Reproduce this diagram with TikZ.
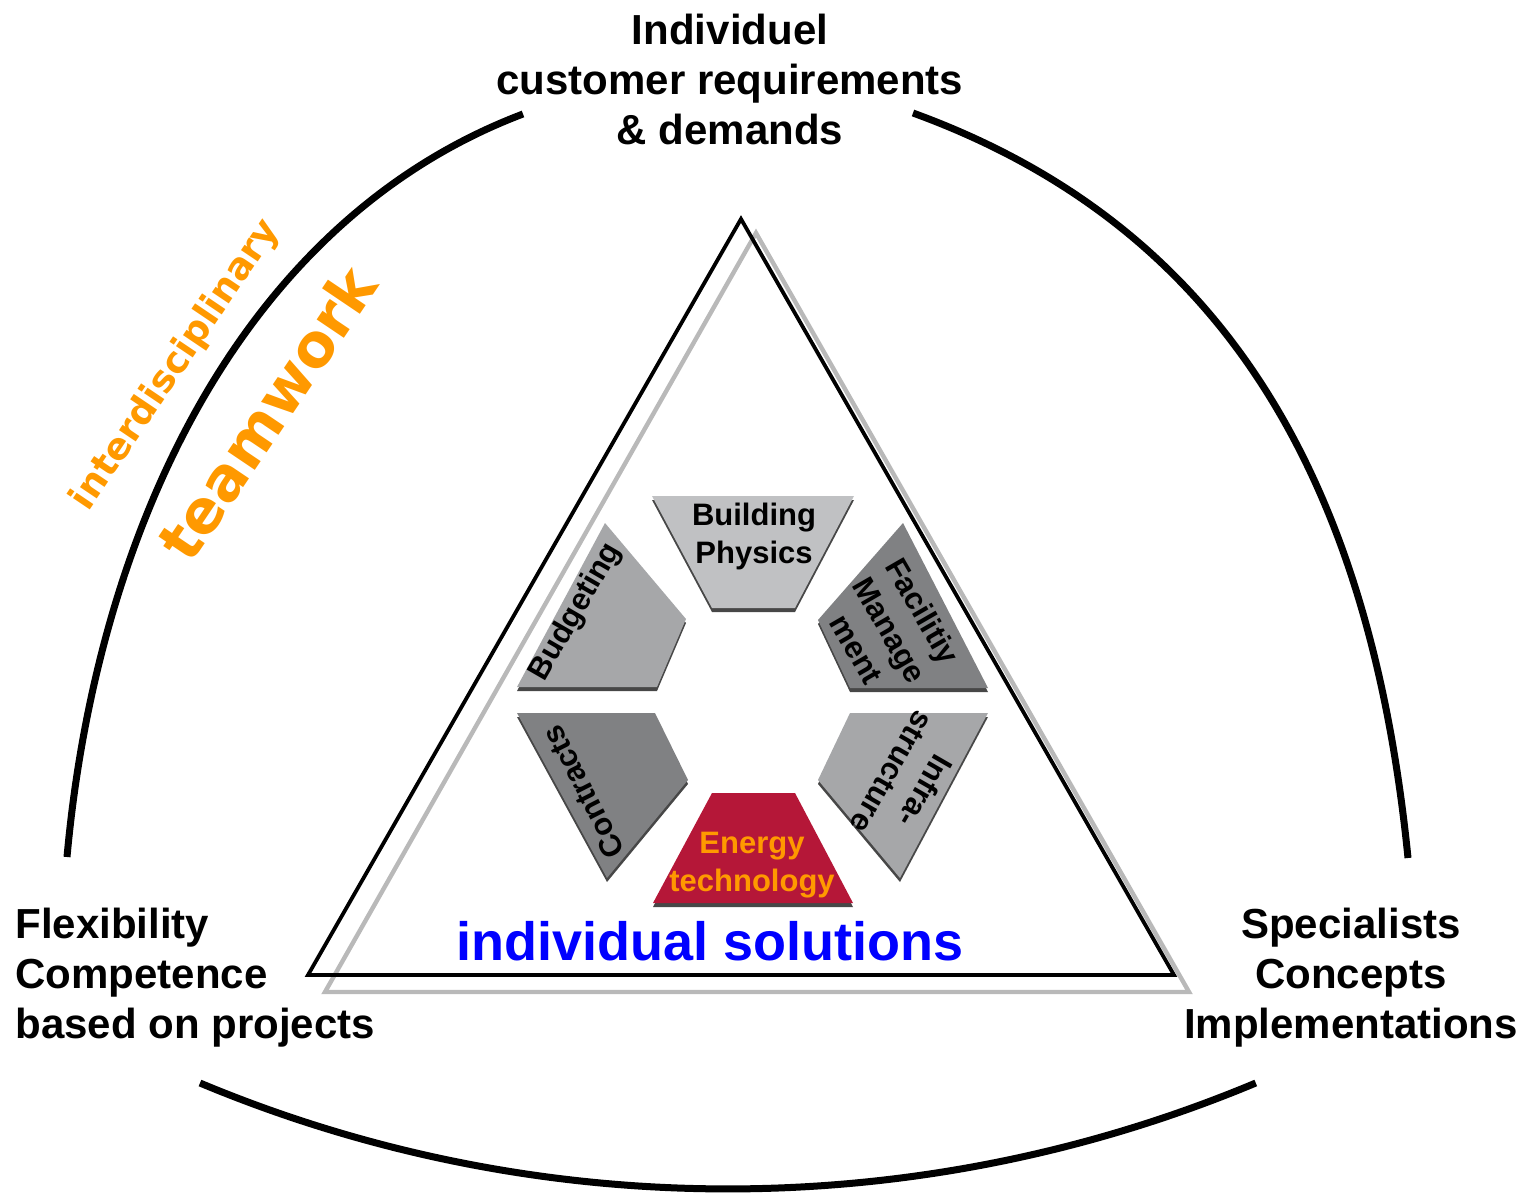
\documentclass[tikz,border=0pt]{standalone}
\usepackage{fontspec}
\setmainfont{Liberation Sans}
\newfontfamily\teamfont{DejaVu Sans}
\usetikzlibrary{positioning}

\definecolor{physgray}{RGB}{192,193,195}
\definecolor{midgray}{RGB}{166,167,169}
\definecolor{facgray}{RGB}{128,129,131}
\definecolor{energyred}{RGB}{181,23,56}
\definecolor{teamorange}{RGB}{255,153,0}
\definecolor{solblue}{RGB}{0,0,255}

\begin{document}
\begin{tikzpicture}
[x=0.5pt, y=-0.5pt,
corner/.style={inner sep=0pt, align=center, font=\fontsize{21}{25}\selectfont\bfseries},
piece/.style={preaction={fill=black!72, transform canvas={yshift=-2pt}}},
plabel/.style={inner sep=0pt, align=center, font=\fontsize{15.5}{19}\selectfont\bfseries},
team/.style={inner sep=0pt, text=teamorange}]

\useasboundingbox (0,0) rectangle (1533,1194);

%Arcs
\draw[line width=3.5pt] (67,857) .. controls (97,527) and (243,220) .. (523,114);
\draw[line width=3.5pt] (1408,858) .. controls (1370,478) and (1223,226) .. (913,113);
\draw[line width=3.5pt] (200,1083) arc[start angle=112.7, end angle=67.3, radius=1368];

%Triangles
\draw[line width=2.2pt, draw=gray!55] (756,233) -- (325,992) -- (1189,992) -- cycle;
\draw[line width=1.9pt] (741,219) -- (308,975) -- (1174,975) -- cycle;

%Hexagon pieces
\fill[piece, fill=physgray] (652,496) -- (854,496) -- (795,608) -- (712,608) -- cycle;
\fill[piece, fill=midgray] (605,523) -- (686,619) -- (657,687) -- (517,687) -- cycle;
\fill[piece, fill=facgray] (903,523) -- (988,688) -- (850,688) -- (818,620) -- cycle;
\fill[piece, fill=facgray] (517,713) -- (655,713) -- (688,780) -- (607,878) -- cycle;
\fill[piece, fill=midgray] (850,713) -- (988,713) -- (900,878) -- (818,780) -- cycle;
\fill[piece, fill=energyred] (712,793) -- (795,793) -- (853,903) -- (653,903) -- cycle;

%Piece labels
\node[plabel] (physics) at (754,536) {Building\\Physics};
\node[plabel, rotate=60] (budget) at (576,612) {Budgeting};
\node[plabel, rotate=-60] (facility) at (890,630) {Facilitiy\\Manage\\ment};
\node[plabel, rotate=117] (contracts) at (583,792) {Contracts};
\node[plabel, rotate=-120] (infra) at (909,782) {Infra-\\structure};
\node[plabel, text=teamorange] (energy) at (752,865) {Energy\\technology};

%Texts
\node[inner sep=0pt, text=solblue, font=\fontsize{27}{27}\selectfont\bfseries] (solutions) at (710,941) {individual solutions};
\node[corner, anchor=north] (customer) at (730,14) {Individuel\\customer requirements\\\& demands};
\node[corner, align=left, anchor=north west] (flex) at (15,908) {Flexibility\\Competence\\based on projects};
\node[corner, anchor=north] (special) at (1351,908) {Specialists\\Concepts\\Implementations};
\node[team, rotate=56, font=\teamfont\bfseries\fontsize{18.5}{18.5}\selectfont] (inter) at (176,365) {interdisciplinary};
\node[team, rotate=56, font=\teamfont\bfseries\fontsize{30}{30}\selectfont] (teamwork) at (267,413) {teamwork};

\end{tikzpicture}
\end{document}
